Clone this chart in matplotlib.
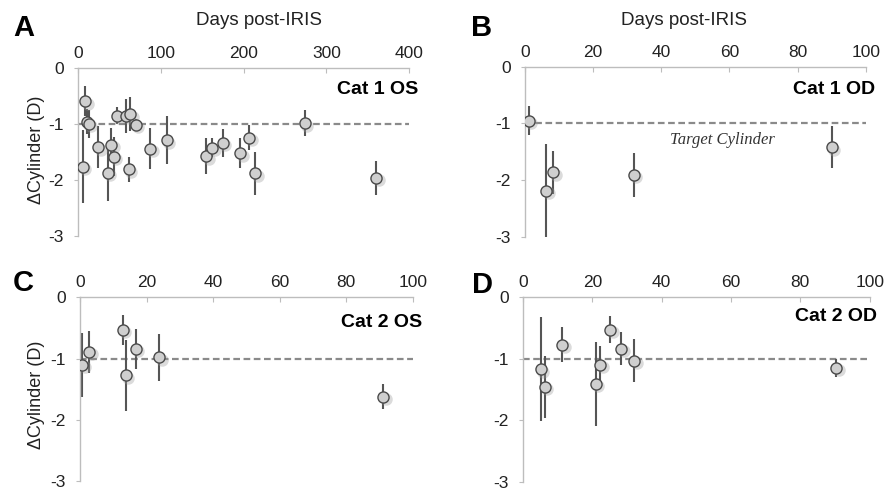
import matplotlib
matplotlib.use("Agg")
import matplotlib.pyplot as plt
from matplotlib.transforms import offset_copy

plt.rcParams['font.family'] = ['Liberation Sans', 'DejaVu Sans']

# ---------------- data ----------------
days_A = [6, 8.5, 10.5, 13, 24.5, 36, 40, 43, 47, 58, 61, 63, 70, 87, 107, 155, 162, 175, 196, 207, 214, 274, 360]
vals_A = [-1.76, -0.59, -0.955, -0.99, -1.41, -1.87, -1.37, -1.58, -0.85, -0.85, -1.81, -0.82, -1.01, -1.44,
          -1.29, -1.57, -1.42, -1.33, -1.52, -1.24, -1.88, -0.98, -1.96]
err_A = [0.65, 0.27, 0.22, 0.25, 0.38, 0.5, 0.3, 0.35, 0.15, 0.3, 0.22, 0.3, 0.1, 0.37,
         0.43, 0.32, 0.17, 0.25, 0.27, 0.22, 0.39, 0.24, 0.31]

days_B = [1.2, 6.3, 8.3, 32, 90]
vals_B = [-0.95, -2.19, -1.86, -1.91, -1.42]
err_B = [0.26, 0.83, 0.38, 0.39, 0.37]

days_C = [0.7, 2.8, 12.8, 13.7, 16.8, 23.8, 91.2]
vals_C = [-1.1, -0.89, -0.53, -1.27, -0.84, -0.98, -1.62]
err_C = [0.52, 0.34, 0.24, 0.58, 0.33, 0.38, 0.2]

days_D = [5.1, 6.3, 11.3, 21, 22.3, 25.2, 28.3, 32.1, 90.3]
vals_D = [-1.17, -1.46, -0.77, -1.41, -1.1, -0.53, -0.84, -1.03, -1.15]
err_D = [0.85, 0.5, 0.29, 0.68, 0.3, 0.22, 0.27, 0.35, 0.15]

target = -1.0
panel_letters = ['A', 'B', 'C', 'D']
panel_titles = ['Cat 1 OS', 'Cat 1 OD', 'Cat 2 OS', 'Cat 2 OD']
xmax = [400, 100, 100, 100]
yticks = [0, -1, -2, -3]

# ---------------- figure ----------------
W, H = 884, 491
fig = plt.figure(figsize=(W / 100, H / 100), dpi=100)

rects = [
    (78, 68.3, 409.3, 236.0),
    (524.7, 66.7, 866.0, 236.7),
    (80.0, 297.3, 412.7, 481.3),
    (523.0, 297.3, 869.7, 481.5),
]
letter_pos = [(23.3, 28.3), (482, 27.5), (23, 283.3), (482.5, 285)]
title_pos = [(1.026, 0.871), (1.027, 0.867), (1.029, 0.864), (1.021, 0.895)]

datasets = [(days_A, vals_A, err_A), (days_B, vals_B, err_B),
            (days_C, vals_C, err_C), (days_D, vals_D, err_D)]

spine_col = '#bdbdbd'
fs = 12.5
for i, (rect, data) in enumerate(zip(rects, datasets)):
    l, t, r, b = rect
    ax = fig.add_axes([l / W, 1 - b / H, (r - l) / W, (b - t) / H])
    d, v, e = data
    ax.set_xlim(0, xmax[i])
    ax.set_ylim(-3, 0)
    ax.plot([0, xmax[i]], [target, target], ls=(0, (3, 1.6)), color='#8a8a8a', lw=1.6, zorder=1)
    ax.errorbar(d, v, yerr=e, fmt='none', ecolor='#555555', elinewidth=1.5, capsize=0, zorder=2)
    sh = offset_copy(ax.transData, fig=fig, x=2.5, y=-2.5, units='dots')
    ax.plot(d, v, 'o', ms=9, color='#9a9a9a', alpha=0.35, mec='none', transform=sh, zorder=2.5)
    ax.plot(d, v, 'o', ms=8, mfc='#cfcfcf', mec='#4a4a4a', mew=1.0, zorder=3)

    for s in ['right', 'bottom']:
        ax.spines[s].set_visible(False)
    for s in ['left', 'top']:
        ax.spines[s].set_color(spine_col)
        ax.spines[s].set_linewidth(1.0)
    ax.xaxis.tick_top()
    ax.tick_params(axis='x', direction='in', length=3.5, color=spine_col, labelsize=fs,
                   labelcolor='#222222', pad=5)
    ax.tick_params(axis='y', direction='out', length=3, color=spine_col, labelsize=fs,
                   labelcolor='#222222', pad=7)
    ax.set_yticks(yticks)
    ax.set_yticklabels([str(y) for y in yticks])
    step = xmax[i] // 5 if xmax[i] == 100 else 100
    ax.set_xticks(range(0, xmax[i] + 1, step))

    ax.text(title_pos[i][0], title_pos[i][1], panel_titles[i], transform=ax.transAxes,
            ha='right', va='center', fontsize=14, fontweight='bold')
    fig.text(letter_pos[i][0] / W, 1 - letter_pos[i][1] / H, panel_letters[i],
             ha='center', va='center', fontsize=21, fontweight='bold')

    if i in (0, 2):
        yc = (t + b) / 2 + (-2 if i == 0 else 5.5)
        fig.text(36.7 / W, 1 - yc / H, '\u0394Cylinder (D)', rotation=90,
                 ha='center', va='center', fontsize=13, color='#222222')
    if i in (0, 1):
        cx = 259 if i == 0 else 684
        fig.text(cx / W, 1 - 20.5 / H, 'Days post-IRIS', ha='center', va='center',
                 fontsize=13.5, color='#222222')
    if i == 1:
        ax.text(57.8, -1.29, 'Target Cylinder', ha='center', va='center', fontsize=12,
                style='italic', family=['Liberation Serif', 'DejaVu Serif'], color='#333333')

fig.savefig('out.png', dpi=100)
